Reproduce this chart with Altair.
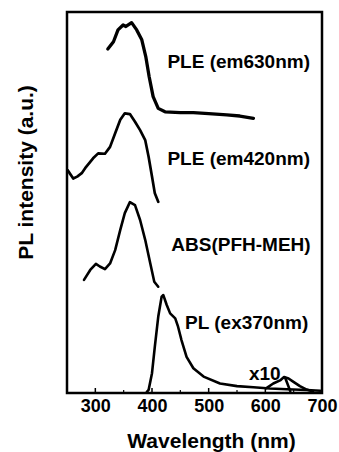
import altair as alt
import pandas as pd

# --- curves (wavelength in nm, intensity in stacked arbitrary units) ---
ple630_nm = [322, 332, 340, 349, 354, 358, 364, 373, 382, 389, 395, 402, 411, 423, 450, 473, 500, 532, 555, 579]
ple630_y = [9.03, 9.22, 9.53, 9.66, 9.62, 9.66, 9.72, 9.53, 9.27, 8.83, 8.30, 7.78, 7.47, 7.38, 7.36, 7.36, 7.33, 7.30, 7.27, 7.21]

ple420_nm = [251, 261, 268, 276, 282, 296, 305, 317, 326, 335, 344, 352, 361, 370, 379, 388, 394, 400, 405, 411]
ple420_y = [5.85, 5.63, 5.68, 5.77, 5.90, 6.16, 6.29, 6.28, 6.46, 6.82, 7.17, 7.34, 7.32, 7.12, 6.90, 6.64, 6.20, 5.68, 5.24, 5.02]

abs_nm = [280, 291, 301, 308, 317, 326, 335, 344, 352, 361, 370, 379, 388, 397, 404, 411]
abs_y = [2.97, 3.23, 3.39, 3.32, 3.25, 3.40, 3.75, 4.28, 4.72, 5.01, 4.93, 4.54, 4.02, 3.40, 2.92, 2.79]

pl_nm = [391, 394, 400, 405, 411, 417, 420, 426, 432, 441, 446, 452, 461, 473, 491, 520, 550, 579, 608, 638, 673, 697]
pl_y = [0.03, 0.08, 0.52, 1.22, 2.00, 2.53, 2.57, 2.31, 2.09, 1.96, 1.74, 1.39, 0.95, 0.65, 0.43, 0.25, 0.18, 0.15, 0.12, 0.10, 0.08, 0.06]

x10_nm = [602, 614, 626, 633, 641, 649, 661, 673, 684]
x10_y = [0.13, 0.25, 0.33, 0.42, 0.38, 0.30, 0.18, 0.09, 0.04]
x10b_nm = [635, 644]
x10b_y = [0.40, 0.05]

# --- labels ---
label_text = ["PLE (em630nm)", "PLE (em420nm)", "ABS(PFH-MEH)", "PL (ex370nm)", "x10"]
label_nm = [553, 553, 557, 567, 599]
label_y = [8.70, 6.14, 3.88, 1.85, 0.50]

# --- axis ticks ---
tick_values = [300, 400, 500, 600, 700]
minor_ticks = [250, 350, 450, 550, 650]

FONT = "Liberation Sans"
xscale = alt.Scale(domain=[250, 700], nice=False, zero=False)
yscale = alt.Scale(domain=[0, 10], nice=False, zero=False)

xaxis = alt.Axis(
    values=tick_values, labelFont=FONT, labelFontSize=18, labelFontWeight="bold",
    labelColor="black", labelPadding=4, labelFlush=False, labelOverlap=False,
    ticks=False, domain=False, grid=False,
    title="Wavelength (nm)", titleFont=FONT, titleFontSize=21, titleFontWeight="bold",
    titleColor="black", titleX=144, titleY=54, titleAlign="center", titleBaseline="alphabetic",
)
yaxis = alt.Axis(
    labels=False, ticks=False, domain=False, grid=False,
    title="PL intensity (a.u.)", titleFont=FONT, titleFontSize=21, titleFontWeight="bold",
    titleColor="black", titleAngle=270, titleX=-35, titleY=160,
    titleAlign="center", titleBaseline="alphabetic",
)

X = alt.X("nm:Q", scale=xscale, axis=xaxis)
Y = alt.Y("v:Q", scale=yscale, axis=yaxis)


def curve(nm, y, width):
    df = pd.DataFrame({"nm": nm, "v": y})
    return alt.Chart(df).mark_line(color="black", strokeWidth=width, strokeJoin="round",
                                   strokeCap="round", clip=True).encode(x=X, y=Y)


layers = [
    curve(ple630_nm, ple630_y, 3.3),
    curve(ple420_nm, ple420_y, 2.7),
    curve(abs_nm, abs_y, 2.6),
    curve(pl_nm, pl_y, 2.6),
    curve(x10_nm, x10_y, 2.6),
    curve(x10b_nm, x10b_y, 2.6),
]

major_df = pd.DataFrame({"nm": tick_values})
minor_df = pd.DataFrame({"nm": minor_ticks})
major = alt.Chart(major_df).mark_rule(color="black", strokeWidth=1.5).encode(
    x=X, y=alt.value(381), y2=alt.value(376))
minor = alt.Chart(minor_df).mark_rule(color="black", strokeWidth=1.2).encode(
    x=X, y=alt.value(381), y2=alt.value(378))

labels_df = pd.DataFrame({"t": label_text, "nm": label_nm, "v": label_y})
labels = alt.Chart(labels_df).mark_text(
    font=FONT, fontSize=19, fontWeight="bold", color="black", align="center", baseline="middle"
).encode(x=X, y=Y, text="t:N")

chart = alt.layer(*layers, major, minor, labels).properties(
    width=255, height=381,
    background="white",
    autosize=alt.AutoSizeParams(type="none"),
    padding={"left": 67, "top": 12, "right": 17, "bottom": 59},
).configure_view(stroke="black", strokeWidth=2.5)

chart.save("out.html", embed_options={"renderer": "svg", "actions": False})
